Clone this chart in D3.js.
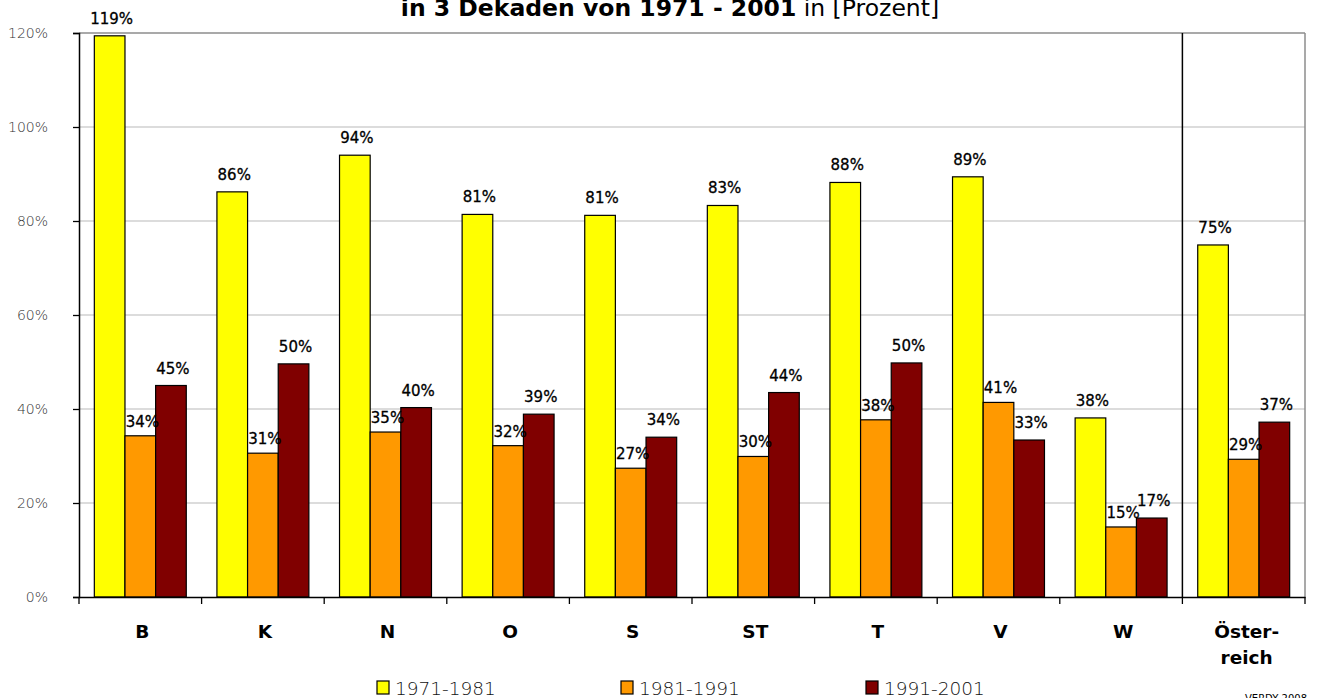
<!DOCTYPE html>
<html>
<head>
<meta charset="utf-8">
<script src="https://cdn.jsdelivr.net/npm/d3@7"></script>
<style>
html,body{margin:0;padding:0;background:#fff;}
svg{display:block;}
</style>
</head>
<body>
<svg id="chart" width="1318" height="698"></svg>
<script>
const categories = ["B","K","N","O","S","ST","T","V","W","Österreich"];
const seriesNames = ["1971-1981","1981-1991","1991-2001"];
const s1971 = [119.4, 86.2, 94.0, 81.4, 81.2, 83.3, 88.2, 89.4, 38.1, 74.9];
const s1981 = [34.3, 30.6, 35.1, 32.2, 27.4, 29.9, 37.7, 41.4, 14.9, 29.3];
const s1991 = [45.0, 49.6, 40.3, 38.9, 34.0, 43.5, 49.8, 33.4, 16.8, 37.2];
const yTicks = [0,20,40,60,80,100,120];
const colors = ["#ffff00","#ff9900","#800000"];

const font = "'DejaVu Sans','Verdana',sans-serif";
const svg = d3.select("#chart");
const L = 79, R = 1305, T = 33, B = 597;

const x = d3.scaleBand().domain(categories).range([L, R]).paddingInner(0).paddingOuter(0);
const x1 = d3.scaleBand().domain(seriesNames).range([0, x.bandwidth()]).paddingOuter(0.5).paddingInner(0);
const y = d3.scaleLinear().domain([0,120]).range([B, T]);

// gridlines
svg.append("g").selectAll("line").data(yTicks.filter(d=>d>0)).join("line")
  .attr("x1", L).attr("x2", R)
  .attr("y1", d=>y(d)).attr("y2", d=>y(d))
  .attr("stroke", d=> d===120 ? "#8c8c8c" : "#d0d0d0").attr("stroke-width", d=> d===120?1.5:1.3);
// right border
svg.append("line").attr("x1", R).attr("x2", R).attr("y1", T).attr("y2", B)
  .attr("stroke", "#8c8c8c").attr("stroke-width", 1.5);

// separator before Österreich
const sepX = x("Österreich");
svg.append("line").attr("x1", sepX).attr("x2", sepX).attr("y1", T).attr("y2", B)
  .attr("stroke", "#000").attr("stroke-width", 1.5);

const data = categories.map((c,i)=>({cat:c, vals:[s1971[i], s1981[i], s1991[i]]}));

const groups = svg.append("g").selectAll("g").data(data).join("g")
  .attr("transform", d=>`translate(${x(d.cat)},0)`);

groups.selectAll("rect").data(d=>d.vals.map((v,j)=>({v, s:seriesNames[j], j}))).join("rect")
  .attr("x", d=>x1(d.s)).attr("width", x1.bandwidth())
  .attr("y", d=>y(d.v)).attr("height", d=>B - y(d.v))
  .attr("fill", d=>colors[d.j]).attr("stroke", "#000").attr("stroke-width", 1.2);

groups.selectAll("text").data(d=>d.vals.map((v,j)=>({v, s:seriesNames[j], j}))).join("text")
  .attr("x", d=>x1(d.s) + x1.bandwidth()/2 + 2)
  .attr("y", d=>y(d.v) - (d.j===1 ? 9 : 12))
  .attr("text-anchor", "middle")
  .attr("font-family", font).attr("font-size", 15).attr("font-weight", 400)
  .attr("fill", "#000").attr("stroke", "#000").attr("stroke-width", 0.3)
  .text(d=>Math.round(d.v) + "%");

// y axis
const yAxis = svg.append("g").attr("transform", `translate(${L},0)`)
  .call(d3.axisLeft(y).tickValues(yTicks).tickSize(6).tickPadding(25).tickFormat(d=>d+"%"));
yAxis.select(".domain").attr("stroke", "#000").attr("stroke-width", 1.5);
yAxis.selectAll(".tick line").attr("stroke", "#000").attr("stroke-width", 1.3);
yAxis.selectAll("text").attr("font-family", font).attr("font-size", 14).attr("fill", "#333").attr("font-weight", 300).attr("dy","0.35em");

// x axis
const xAxis = svg.append("g").attr("transform", `translate(0,${B})`)
  .call(d3.axisBottom(x).tickSize(0).tickFormat(""));
xAxis.select(".domain").attr("stroke", "#000").attr("stroke-width", 1.5);
xAxis.selectAll(".tick").remove();
const boundaries = categories.map(c=>x(c)).concat([R]);
xAxis.selectAll("line.bnd").data(boundaries).join("line").attr("class","bnd")
  .attr("x1", d=>d).attr("x2", d=>d).attr("y1", 0).attr("y2", 7)
  .attr("stroke", "#000").attr("stroke-width", 1.3);

// category labels
svg.append("g").selectAll("text").data(categories).join("text")
  .attr("x", d=>x(d) + x.bandwidth()/2 + 2)
  .attr("y", 638)
  .attr("text-anchor", "middle")
  .attr("font-family", font).attr("font-size", 18.5).attr("font-weight", 700)
  .each(function(d){
    const t = d3.select(this);
    if (d === "Österreich") {
      t.append("tspan").attr("x", x(d)+x.bandwidth()/2 + 3).attr("dy", 0).text("Öster-");
      t.append("tspan").attr("x", x(d)+x.bandwidth()/2 + 3).attr("dy", 26).text("reich");
    } else t.text(d);
  });

// title
const title = svg.append("text").attr("x", 670).attr("y", 16).attr("text-anchor","middle")
  .attr("font-family", font).attr("font-size", 23.5).attr("fill","#000");
title.append("tspan").attr("font-weight", 700).text("in 3 Dekaden von 1971 - 2001");
title.append("tspan").attr("font-weight", 400).text(" in [Prozent]");

// legend
const legX = [377, 621, 866];
const leg = svg.append("g").selectAll("g").data(seriesNames).join("g")
  .attr("transform", (d,i)=>`translate(${legX[i]},681)`);
leg.append("rect").attr("width", 12).attr("height", 13)
  .attr("fill", (d,i)=>colors[i]).attr("stroke","#000").attr("stroke-width",1.2);
leg.append("text").attr("x", 18).attr("y", 14)
  .attr("font-family", font).attr("font-size", 18.5).attr("font-weight", 300).attr("fill","#111")
  .text(d=>d);

// source note
svg.append("text").attr("x", 1245).attr("y", 702)
  .attr("font-family", font).attr("font-size", 10).attr("fill","#000")
  .text("VERDY 2008");
</script>
</body>
</html>
